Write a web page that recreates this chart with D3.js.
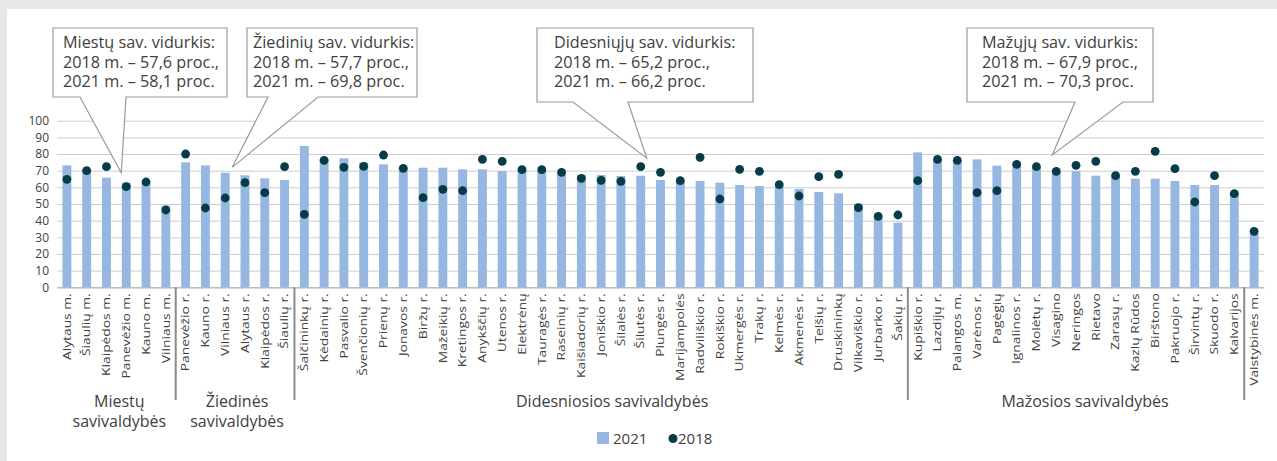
<!DOCTYPE html>
<html><head><meta charset="utf-8">
<script src="https://cdn.jsdelivr.net/npm/d3@7"></script>
<style>body{margin:0;background:#fff}svg{display:block}text{font-family:"Open Sans",sans-serif;fill:#404040}</style>
</head><body><svg id="c" width="1277" height="461"></svg>
<script>
const categories = ["Alytaus m.","Šiaulių m.","Klaipėdos m.","Panevėžio m.","Kauno m.","Vilniaus m.",
"Panevėžio r.","Kauno r.","Vilniaus r.","Alytaus r.","Klaipėdos r.","Šiaulių r.",
"Šalčininkų r.","Kėdainių r.","Pasvalio r.","Švenčionių r.","Prienų r.","Jonavos r.","Biržų r.","Mažeikių r.","Kretingos r.","Anykščių r.","Utenos r.","Elektrėnų","Tauragės r.","Raseinių r.","Kaišiadorių r.","Joniškio r.","Šilalės r.","Šilutės r.","Plungės r.","Marijampolės","Radviliškio r.","Rokiškio r.","Ukmergės r.","Trakų r.","Kelmės r.","Akmenės r.","Telšių r.","Druskininkų","Vilkaviškio r.","Jurbarko r.","Šakių r.",
"Kupiškio r.","Lazdijų r.","Palangos m.","Varėnos r.","Pagėgių","Ignalinos r.","Molėtų r.","Visagino","Neringos","Rietavo","Zarasų r.","Kazlų Rūdos","Birštono","Pakruojo r.","Širvintų r.","Skuodo r.","Kalvarijos",
"Valstybinės m."];
const values2021 = [73.2,71,65.8,62.8,62.5,49,
75,73.2,68.8,67.2,65.4,64.4,
84.8,77,77.4,75,73.8,72.4,71.8,71.8,70.8,70.8,69.8,70.5,70,69,67.4,67.4,66.8,67,64.4,64,63.8,62.8,61.4,60.8,60.5,59,57.2,56.4,50.2,42,38.8,
81,76.5,76,76.8,73,73,72,70,69.8,67,66.5,65.2,65.2,63.8,61.4,61.4,57,
32.4];
const values2018 = [64.8,70,72.4,60.4,63.2,46.4,
80,47.6,53.6,62.8,56.8,72.4,
43.8,76.2,72,72.6,79.4,71.4,53.8,58.8,58,76.8,75.6,70.6,70.6,69,65.4,64.2,63.6,72.4,69,64,78,53,70.8,69.6,61.6,54.8,66.4,67.8,47.8,42.6,43.4,
64,76.8,76.2,56.8,58,73.8,72.4,69.6,73.2,75.6,67,69.6,81.6,71.2,51.2,67,56.2,
33.6];
const groupNames = [["Miestų","savivaldybės"],["Žiedinės","savivaldybės"],["Didesniosios savivaldybės"],["Mažosios savivaldybės"],[]];
const groupSizes = [6,6,31,17,1];
const yTicks = [0,10,20,30,40,50,60,70,80,90,100];
const seriesNames = ["2021","2018"];
const calloutTexts = [
 ["Miestų sav. vidurkis:","2018 m. – 57,6 proc.,","2021 m. – 58,1 proc."],
 ["Žiedinių sav. vidurkis:","2018 m. – 57,7 proc.,","2021 m. – 69,8 proc."],
 ["Didesniųjų sav. vidurkis:","2018 m. – 65,2 proc.,","2021 m. – 66,2 proc."],
 ["Mažųjų sav. vidurkis:","2018 m. – 67,9 proc.,","2021 m. – 70,3 proc."]
];

const svg = d3.select("#c");
const barColor = "#95b7e1", dotColor = "#063b48";
// frame
svg.append("rect").attr("width",1277).attr("height",461).attr("fill","#e7e7e7");
svg.append("rect").attr("x",7).attr("y",9).attr("width",1270).attr("height",452).attr("fill","#fff");

const x0 = 57, x1 = 1264, yBot = 287.3, yTop = 120.7;
const pad = 0.55;
const x = d3.scaleBand().domain(categories).range([x0,x1]).paddingInner(pad).paddingOuter(pad/2);
const y = d3.scaleLinear().domain([0,100]).range([yBot,yTop]);
const cx = c => x(c) + x.bandwidth()/2;

// grid
const yAxis = d3.axisLeft(y).tickValues(yTicks).tickSize(-(x1-x0)).tickPadding(8);
const ga = svg.append("g").attr("transform",`translate(${x0},0)`).call(yAxis);
ga.select(".domain").remove();
ga.selectAll(".tick line").attr("stroke","#cdcdcd").attr("stroke-width",1);
ga.selectAll(".tick text").attr("font-size","12px").attr("fill","#404040").attr("font-family","Open Sans");
ga.selectAll(".tick").filter(d=>d===0).select("line").attr("stroke","#b5b5b5");

// bars
svg.append("g").selectAll("rect").data(categories).join("rect")
  .attr("x",c=>x(c)).attr("width",x.bandwidth())
  .attr("y",(c,i)=>y(values2021[i])).attr("height",(c,i)=>y(0)-y(values2021[i]))
  .attr("fill",barColor);
// dots
svg.append("g").selectAll("circle").data(categories).join("circle")
  .attr("cx",cx).attr("cy",(c,i)=>y(values2018[i])).attr("r",4.4).attr("fill",dotColor);

// category labels
const xAxis = d3.axisBottom(x).tickSize(0).tickPadding(0);
const gx = svg.append("g").attr("transform",`translate(0,${yBot})`).call(xAxis);
gx.select(".domain").attr("stroke","#b5b5b5");
gx.selectAll(".tick text")
  .attr("font-size","10.8px").attr("font-family","Open Sans").attr("fill","#404040")
  .attr("text-anchor","end").attr("dy","0.35em").attr("y",0)
  .attr("transform","translate(0,6) rotate(-90) scale(1.28,1)");

// group separators and labels
let acc = 0;
const nudges = [3,2,11,9,0];
groupSizes.forEach((n,gi)=>{
  const startCat = categories[acc], endCat = categories[acc+n-1];
  const left = x(startCat) - x.step()*x.paddingInner()/2;
  const right = x(endCat) + x.bandwidth() + x.step()*x.paddingInner()/2;
  if (gi>0) {
    svg.append("line").attr("x1",left).attr("x2",left).attr("y1",yBot).attr("y2",400)
      .attr("stroke","#8a8a8a").attr("stroke-width",2);
  }
  const mid = (left+right)/2 + nudges[gi];
  groupNames[gi].forEach((t,li)=>{
    svg.append("text").attr("x",mid).attr("y",407+li*20).attr("text-anchor","middle")
      .attr("font-size","16px").text(t);
  });
  acc += n;
});

// callouts (layout)
const callouts = [
  {box:[53,28,227,97], base:[80,126], tip:[categories[3],-5,68.7], tx:63},
  {box:[247,28,417,97], base:[268,318], tip:[categories[8],7,72], tx:253},
  {box:[537,28,753,102], base:[573,628], tip:[categories[29],6,77.5], tx:554},
  {box:[967,28,1153,102], base:[1075,1123], tip:[categories[50],-4,79.4], tx:982}
];
callouts.forEach((c,i)=>{
  const [l,t,r,b] = c.box;
  const tipX = cx(c.tip[0]) + c.tip[1], tipY = y(c.tip[2]);
  const p = `M${l},${t}H${r}V${b}H${c.base[1]}L${tipX},${tipY}L${c.base[0]},${b}H${l}Z`;
  svg.append("path").attr("d",p).attr("fill","#fff").attr("stroke","#9a9a9a").attr("stroke-width",1.2);
  calloutTexts[i].forEach((s,li)=>{
    svg.append("text").attr("x",c.tx).attr("y",48.5+li*19.5).attr("font-size","15.6px")
      .attr("transform",`translate(${c.tx},0) scale(1.04,1) translate(${-c.tx},0)`).text(s);
  });
});

// legend
const lg = svg.append("g");
lg.append("rect").attr("x",597).attr("y",432).attr("width",12).attr("height",12).attr("fill",barColor);
lg.append("text").attr("x",613).attr("y",444).attr("font-size","15px").text(seriesNames[0]);
lg.append("circle").attr("cx",673).attr("cy",438.5).attr("r",4.5).attr("fill",dotColor);
lg.append("text").attr("x",678).attr("y",444).attr("font-size","15px").text(seriesNames[1]);
</script></body></html>
